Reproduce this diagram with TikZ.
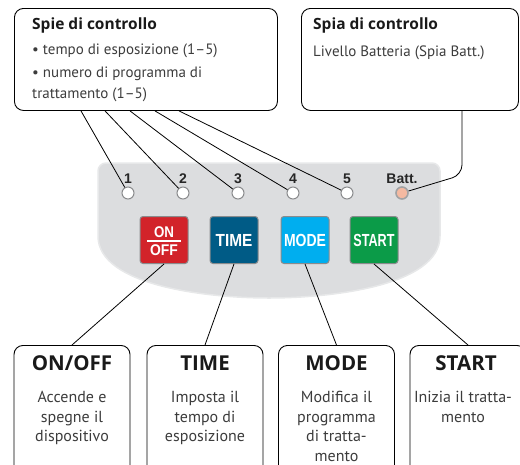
\documentclass[tikz,border=0pt]{standalone}
\usepackage{fontspec}
\setmainfont{PT Sans}
\newfontfamily\titlefont{Open Sans}
\newfontfamily\labfont{Liberation Sans}
\usetikzlibrary{calc}
\definecolor{panelgray}{HTML}{DCDDDF}
\definecolor{paneledge}{HTML}{E7E8E9}
\definecolor{onred}{HTML}{D2232A}
\definecolor{timeblue}{HTML}{005B86}
\definecolor{modeblue}{HTML}{00AEEF}
\definecolor{startgreen}{HTML}{0B9B48}
\definecolor{battled}{HTML}{F4B9A1}
\definecolor{txtgray}{HTML}{3C3C3C}
\definecolor{btnedge}{HTML}{8A8B8D}
\tikzset{
  infobox/.style={draw=black, line width=0.9, rounded corners=9, inner sep=0, anchor=north west},
  lowbox/.style={draw=black, line width=0.9, rounded corners=9, inner sep=0, anchor=north, minimum width=116, minimum height=140},
  led/.style={circle, draw=btnedge, line width=1, fill=white, minimum size=12, inner sep=0},
  ledlabel/.style={font=\labfont\bfseries\fontsize{14}{14}\selectfont, text=black!85, anchor=base, inner sep=0},
  button/.style={draw=btnedge, line width=1, rounded corners=3, minimum width=48, minimum height=47, inner sep=0, text=white, font=\labfont\bfseries\fontsize{17.5}{17.5}\selectfont},
  onoff/.style={font=\labfont\bfseries\fontsize{15.5}{15.5}\selectfont, text=white, inner sep=0},
  wire/.style={draw=black, line width=0.8},
  boxtitle/.style={font=\titlefont\bfseries\fontsize{15.5}{15.5}\selectfont, text=black!90, anchor=base west, inner sep=0},
  boxtext/.style={font=\fontsize{15}{15}\selectfont, text=txtgray, anchor=base west, inner sep=0},
  lowtitle/.style={font=\titlefont\bfseries\fontsize{20.5}{20.5}\selectfont, text=black!90, anchor=base, inner sep=0},
  lowtext/.style={font=\fontsize{16}{19.5}\selectfont, text=txtgray, anchor=north, align=center, inner sep=0},
}
\begin{document}
\begin{tikzpicture}[x=1pt,y=-1pt]
\useasboundingbox (0,0) rectangle (520,464);
\clip (0,0) rectangle (520,464);
% panel
\path[fill=panelgray, draw=paneledge, line width=1.5]
  (98,171) arc[start angle=180, end angle=270, radius=8] -- (432,163)
  arc[start angle=270, end angle=360, radius=8] -- (440,236)
  .. controls (440,286) and (330,298) .. (269,298)
  .. controls (208,298) and (98,286) .. (98,236) -- cycle;
% top boxes
\node[infobox, minimum width=263, minimum height=102] (spie) at (14,8) {};
\node[infobox, minimum width=217, minimum height=102] (spia) at (301,8) {};
\node[boxtitle] (spietitle) at (32,29) {Spie di controllo};
\node[boxtext] (spie1) at (32,54) {\textbullet\ tempo di esposizione (1–5)};
\node[boxtext] (spie2) at (32,77) {\textbullet\ numero di programma di};
\node[boxtext] (spie3) at (32,98) {trattamento (1–5)};
\node[boxtitle] (spiatitle) at (313,29) {Spia di controllo};
\node[boxtext] (spia1) at (313,56) {Livello Batteria (Spia Batt.)};
% LEDs
\foreach \i/\x in {1/128,2/183,3/238,4/293,5/347}{
  \node[led] (led\i) at (\x,193) {};
  \node[ledlabel] (lab\i) at (\x,183) {\i};
}
\node[led, fill=battled, draw=btnedge!80, line width=1.6] (led6) at (402,193) {};
\node[ledlabel] (lab6) at (402,183) {Batt.};
% buttons
\node[button, fill=onred] (bon) at (164,240) {};
\node[onoff] (bonon) at (164,232) {\scalebox{0.86}[1]{ON}};
\node[onoff] (bonoff) at (164,250.5) {\scalebox{0.9}[1]{OFF}};
\draw[white, line width=1.2] ($(bon.center)+(-17,1)$) -- ($(bon.center)+(17,1)$);
\node[button, fill=timeblue] (btime) at (234,240) {\scalebox{0.88}[1]{TIME}};
\node[button, fill=modeblue] (bmode) at (305,240) {\scalebox{0.8}[1]{MODE}};
\node[button, fill=startgreen] (bstart) at (374,240) {\scalebox{0.72}[1]{START}};
% bottom boxes
\node[lowbox] (b1) at (72,345) {};
\node[lowbox] (b2) at (205,345) {};
\node[lowbox] (b3) at (336.5,345) {};
\node[lowbox] (b4) at (468,345) {};
\node[lowtitle] (t1) at (72,370) {ON/OFF};
\node[lowtitle] (t2) at (205,370) {TIME};
\node[lowtitle] (t3) at (336.5,370) {MODE};
\node[lowtitle] (t4) at (466,370) {START};
\node[lowtext] (d1) at (72,391) {Accende e\\spegne il\\dispositivo};
\node[lowtext] (d2) at (205,391) {Imposta il\\tempo di\\esposizione};
\node[lowtext] (d3) at (336.5,391) {Modifica il\\programma\\di tratta-\\mento};
\node[lowtext] (d4) at (463,391) {Inizia il tratta-\\mento};
% wires top
\foreach \i/\dx in {1/67,2/91,3/116,4/141,5/165}{
  \draw[wire] ($(spie.south west)+(\dx,0)$) -- (led\i);
}
\draw[wire, rounded corners=10] ($(spia.south west)+(161,0)$) -- ($(spia.south west)+(161,64)$) -- (led6);
% wires bottom
\draw[wire] (bon.south) -- (b1.north);
\draw[wire] (btime.south) -- (b2.north);
\draw[wire] (bmode.south) -- (b3.north);
\draw[wire] (bstart.south) -- (b4.north);
\end{tikzpicture}
\end{document}
